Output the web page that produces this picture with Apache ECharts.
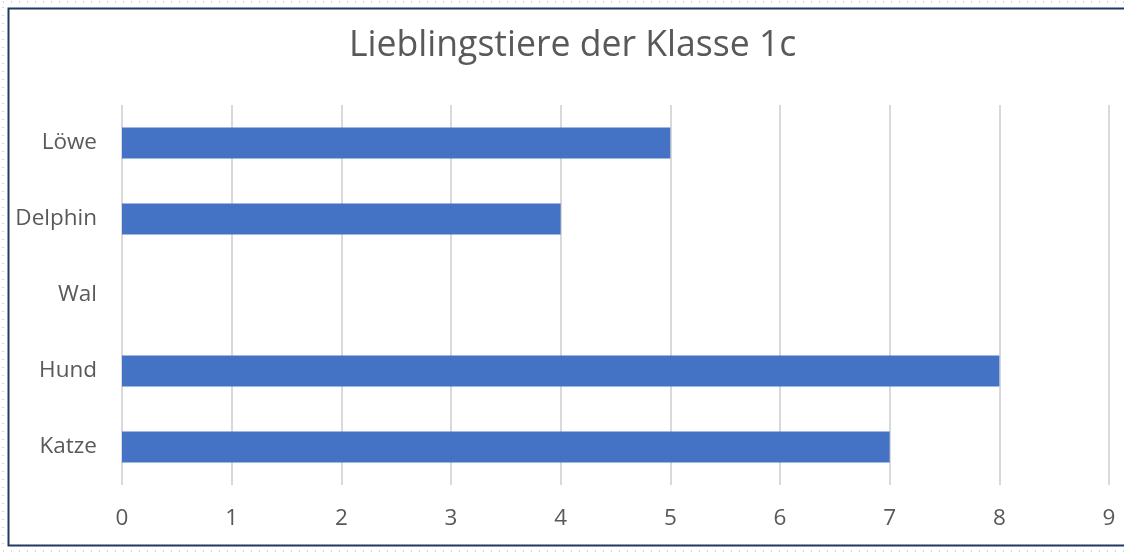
<!DOCTYPE html>
<html>
<head>
<meta charset="utf-8">
<script src="https://cdn.jsdelivr.net/npm/echarts@6/dist/echarts.min.js"></script>
<style>
  html, body { margin: 0; padding: 0; background: #fff; }
  #chart { width: 1124px; height: 554px; }
</style>
</head>
<body>
<div id="chart"></div>
<script>
// Kategorien von unten nach oben
const animals = ['Katze', 'Hund', 'Wal', 'Delphin', 'Löwe'];
const counts = [7, 8, 0, 4, 5];

const chart = echarts.init(document.getElementById('chart'));
const font = '"Open Sans", sans-serif';

const option = {
  animation: false,
  title: {
    text: 'Lieblingstiere der Klasse 1c',
    left: 344,
    top: 23,
    textStyle: { color: '#595959', fontSize: 35.6, fontWeight: 'normal', fontFamily: font },
  },
  graphic: [
    {
      type: 'rect',
      shape: { x: 3, y: 2, width: 1130, height: 549 },
      style: { fill: 'none', stroke: '#b0b0b0', lineWidth: 1, lineDash: [1, 7] },
      silent: true,
    },
    {
      type: 'rect',
      shape: { x: 8.5, y: 8.5, width: 1130, height: 537 },
      style: { fill: 'none', stroke: '#1f3864', lineWidth: 2 },
      silent: true,
    },
  ],
  grid: { left: 122, right: 15, top: 105, bottom: 69 },
  xAxis: {
    type: 'value',
    min: 0,
    max: 9,
    interval: 1,
    axisLine: { show: false },
    axisTick: { show: false },
    axisLabel: { color: '#595959', fontSize: 22.5, fontFamily: font, margin: 22 },
    splitLine: { lineStyle: { color: '#d9d9d9', width: 2 } },
  },
  yAxis: {
    type: 'category',
    data: animals,
    axisLine: { show: false },
    axisTick: { show: false },
    axisLabel: { color: '#595959', fontSize: 22.5, fontFamily: font, margin: 25 },
  },
  series: [
    {
      type: 'bar',
      data: counts,
      barWidth: 31,
      itemStyle: { color: '#4472c4' },
    },
  ],
};

chart.setOption(option);
</script>
</body>
</html>
